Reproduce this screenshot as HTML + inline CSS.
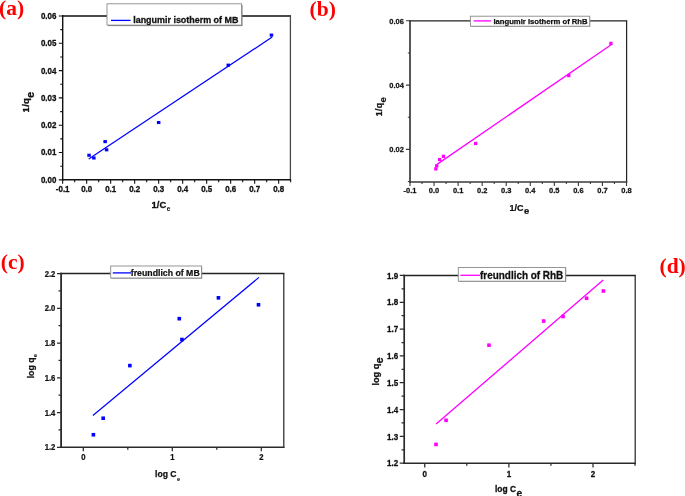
<!DOCTYPE html>
<html lang="en"><head><meta charset="utf-8"><title>Langmuir and Freundlich isotherms of MB and RhB</title>
<style>html,body{margin:0;padding:0;background:#fff;overflow:hidden}svg{display:block}text{white-space:pre}.s text{stroke:#111;stroke-linejoin:round}</style></head><body>
<svg width="685" height="496" viewBox="0 0 685 496">
<rect width="685" height="496" fill="#fff"/>
<g class="s" stroke-width="0.3">
<g class="frame">
<line x1="62" y1="16" x2="291.05" y2="16" stroke="#4a4a4a" stroke-width="1.8"/>
<line x1="290.4" y1="16" x2="290.4" y2="180.6" stroke="#4a4a4a" stroke-width="1.3"/>
<line x1="62.7" y1="15.1" x2="62.7" y2="180.6" stroke="#111" stroke-width="1.4"/>
<line x1="62" y1="179.85" x2="291.05" y2="179.85" stroke="#111" stroke-width="1.5"/>
</g>
<path d="M62.66 179.85v3.95M86.66 179.85v3.95M110.66 179.85v3.95M134.66 179.85v3.95M158.66 179.85v3.95M182.66 179.85v3.95M206.66 179.85v3.95M230.66 179.85v3.95M254.66 179.85v3.95M278.66 179.85v3.95M74.66 179.85v2.45M98.66 179.85v2.45M122.66 179.85v2.45M146.66 179.85v2.45M170.66 179.85v2.45M194.66 179.85v2.45M218.66 179.85v2.45M242.66 179.85v2.45M266.66 179.85v2.45M290.66 179.85v2.45M62.7 179.85h-3.9M62.7 152.54h-3.9M62.7 125.23h-3.9M62.7 97.92h-3.9M62.7 70.62h-3.9M62.7 43.31h-3.9M62.7 16h-3.9M62.7 166.2h-2.4M62.7 138.89h-2.4M62.7 111.58h-2.4M62.7 84.27h-2.4M62.7 56.96h-2.4M62.7 29.65h-2.4" stroke="#111" stroke-width="1.1" fill="none"/>
<g font-family='"Liberation Sans", Arial, Helvetica, sans-serif' font-weight="bold" font-size="8.3" fill="#111">
<text transform="translate(62.66 191.7) scale(0.96 1)" text-anchor="middle">-0.1</text>
<text transform="translate(86.66 191.7) scale(0.96 1)" text-anchor="middle">0.0</text>
<text transform="translate(110.66 191.7) scale(0.96 1)" text-anchor="middle">0.1</text>
<text transform="translate(134.66 191.7) scale(0.96 1)" text-anchor="middle">0.2</text>
<text transform="translate(158.66 191.7) scale(0.96 1)" text-anchor="middle">0.3</text>
<text transform="translate(182.66 191.7) scale(0.96 1)" text-anchor="middle">0.4</text>
<text transform="translate(206.66 191.7) scale(0.96 1)" text-anchor="middle">0.5</text>
<text transform="translate(230.66 191.7) scale(0.96 1)" text-anchor="middle">0.6</text>
<text transform="translate(254.66 191.7) scale(0.96 1)" text-anchor="middle">0.7</text>
<text transform="translate(278.66 191.7) scale(0.96 1)" text-anchor="middle">0.8</text>
<text transform="translate(56.4 182.8) scale(0.96 1)" text-anchor="end">0.00</text>
<text transform="translate(56.4 155.49) scale(0.96 1)" text-anchor="end">0.01</text>
<text transform="translate(56.4 128.18) scale(0.96 1)" text-anchor="end">0.02</text>
<text transform="translate(56.4 100.88) scale(0.96 1)" text-anchor="end">0.03</text>
<text transform="translate(56.4 73.57) scale(0.96 1)" text-anchor="end">0.04</text>
<text transform="translate(56.4 46.26) scale(0.96 1)" text-anchor="end">0.05</text>
<text transform="translate(56.4 18.95) scale(0.96 1)" text-anchor="end">0.06</text>
</g>
<text transform="translate(151.6 207.8) scale(0.985 1)" font-family='"Liberation Sans", Arial, Helvetica, sans-serif' font-weight="bold" font-size="9.6" fill="#111">1/C<tspan dx="0.4" dy="3.2" font-size="6.5" stroke-width="0.08">e</tspan></text>
<text transform="translate(29.2 112.5) rotate(-90) scale(1 1)" letter-spacing="0.3" font-family='"Liberation Sans", Arial, Helvetica, sans-serif' font-weight="bold" font-size="9.6" fill="#111">1/q<tspan dx="-0.3" dy="5.2" font-size="11">e</tspan></text>
<line x1="88.7" y1="159.1" x2="272.2" y2="37.1" stroke="#0000ff" stroke-width="1.25"/>
<rect x="87.31" y="153.72" width="3.5" height="3.1" fill="#0000ff"/>
<rect x="92.11" y="156.45" width="3.5" height="3.1" fill="#0000ff"/>
<rect x="103.39" y="140.07" width="3.5" height="3.1" fill="#0000ff"/>
<rect x="104.83" y="148.26" width="3.5" height="3.1" fill="#0000ff"/>
<rect x="156.91" y="120.95" width="3.5" height="3.1" fill="#0000ff"/>
<rect x="226.51" y="63.6" width="3.5" height="3.1" fill="#0000ff"/>
<rect x="269.71" y="33.57" width="3.5" height="3.1" fill="#0000ff"/>
<rect x="108" y="4.8" width="134.5" height="21.3" fill="#777"/>
<rect x="107" y="3.8" width="134.5" height="21.3" fill="#fff" stroke="#8a8a8a" stroke-width="0.9"/>
<line x1="111" y1="20.4" x2="130.6" y2="20.4" stroke="#0000ff" stroke-width="1.3"/>
<text transform="translate(133.2 23) scale(0.972 1)" font-family='"Liberation Sans", Arial, Helvetica, sans-serif' font-weight="bold" font-size="9.2" fill="#111">langumir isotherm of MB</text>
</g>
<g class="s" stroke-width="0.25">
<g class="frame">
<line x1="409.15" y1="20.8" x2="627.2" y2="20.8" stroke="#222" stroke-width="1.2"/>
<line x1="626.6" y1="20.8" x2="626.6" y2="182.8" stroke="#222" stroke-width="1.2"/>
<line x1="410" y1="20.2" x2="410" y2="182.8" stroke="#3a3a3a" stroke-width="1.7"/>
<line x1="409.15" y1="182" x2="627.2" y2="182" stroke="#3a3a3a" stroke-width="1.6"/>
</g>
<path d="M410 182v4M434.06 182v4M458.11 182v4M482.17 182v4M506.22 182v4M530.28 182v4M554.33 182v4M578.39 182v4M602.44 182v4M626.5 182v4M422.03 182v2.1M446.08 182v2.1M470.14 182v2.1M494.19 182v2.1M518.25 182v2.1M542.31 182v2.1M566.36 182v2.1M590.42 182v2.1M614.47 182v2.1M410 149.4h-4.05M410 85.1h-4.05M410 20.8h-4.05M410 181.55h-2.15M410 117.25h-2.15M410 52.95h-2.15" stroke="#3a3a3a" stroke-width="1.1" fill="none"/>
<g font-family='"Liberation Sans", Arial, Helvetica, sans-serif' font-weight="bold" font-size="7.7" fill="#111">
<text transform="translate(410 193.35) scale(0.975 1)" text-anchor="middle">-0.1</text>
<text transform="translate(434.06 193.35) scale(0.975 1)" text-anchor="middle">0.0</text>
<text transform="translate(458.11 193.35) scale(0.975 1)" text-anchor="middle">0.1</text>
<text transform="translate(482.17 193.35) scale(0.975 1)" text-anchor="middle">0.2</text>
<text transform="translate(506.22 193.35) scale(0.975 1)" text-anchor="middle">0.3</text>
<text transform="translate(530.28 193.35) scale(0.975 1)" text-anchor="middle">0.4</text>
<text transform="translate(554.33 193.35) scale(0.975 1)" text-anchor="middle">0.5</text>
<text transform="translate(578.39 193.35) scale(0.975 1)" text-anchor="middle">0.6</text>
<text transform="translate(602.44 193.35) scale(0.975 1)" text-anchor="middle">0.7</text>
<text transform="translate(626.5 193.35) scale(0.975 1)" text-anchor="middle">0.8</text>
<text transform="translate(403.9 152.15) scale(0.975 1)" text-anchor="end">0.02</text>
<text transform="translate(403.9 87.85) scale(0.975 1)" text-anchor="end">0.04</text>
<text transform="translate(403.9 23.55) scale(0.975 1)" text-anchor="end">0.06</text>
</g>
<text transform="translate(509.6 210.55) scale(0.97 1)" font-family='"Liberation Sans", Arial, Helvetica, sans-serif' font-weight="bold" font-size="9.3" fill="#111">1/C<tspan dx="0.4" dy="3.2" font-size="9.7">e</tspan></text>
<text transform="translate(382.4 116.2) rotate(-90) scale(1 1)" letter-spacing="0.25" font-family='"Liberation Sans", Arial, Helvetica, sans-serif' font-weight="bold" font-size="8.8" fill="#111">1/q<tspan dx="0.2" dy="3.4" font-size="9.5">e</tspan></text>
<line x1="437" y1="164.4" x2="610.8" y2="45" stroke="#ff00ff" stroke-width="1.3"/>
<rect x="434.21" y="167.22" width="3.3" height="3.3" fill="#ff00ff"/>
<rect x="435.05" y="164.16" width="3.3" height="3.3" fill="#ff00ff"/>
<rect x="437.94" y="157.9" width="3.3" height="3.3" fill="#ff00ff"/>
<rect x="441.79" y="154.68" width="3.3" height="3.3" fill="#ff00ff"/>
<rect x="474.02" y="141.82" width="3.3" height="3.3" fill="#ff00ff"/>
<rect x="567.12" y="73.91" width="3.3" height="3.3" fill="#ff00ff"/>
<rect x="609.33" y="41.75" width="3.3" height="3.3" fill="#ff00ff"/>
<rect x="470.9" y="16.7" width="119.3" height="10" fill="#999"/>
<rect x="470.4" y="16.2" width="119.3" height="10" fill="#fff" stroke="#8a8a8a" stroke-width="0.9"/>
<line x1="473.6" y1="20.9" x2="491.2" y2="20.9" stroke="#ff00ff" stroke-width="1.3"/>
<text transform="translate(493.4 23.8) scale(1 1)" font-family='"Liberation Sans", Arial, Helvetica, sans-serif' font-weight="bold" font-size="7.68" fill="#111">langumir isotherm of RhB</text>
</g>
<g class="s" stroke-width="0.25">
<g class="frame">
<line x1="60.2" y1="273.5" x2="284.4" y2="273.5" stroke="#222" stroke-width="1.3"/>
<line x1="283.8" y1="273.5" x2="283.8" y2="447.95" stroke="#222" stroke-width="1.2"/>
<line x1="61.1" y1="272.85" x2="61.1" y2="447.95" stroke="#2a2a2a" stroke-width="1.8"/>
<line x1="60.2" y1="447.25" x2="284.4" y2="447.25" stroke="#2a2a2a" stroke-width="1.4"/>
</g>
<path d="M83.3 447.25v3.9M172.3 447.25v3.9M261.3 447.25v3.9M127.8 447.25v2.4M216.8 447.25v2.4M61.1 447.25h-4.1M61.1 412.5h-4.1M61.1 377.75h-4.1M61.1 343h-4.1M61.1 308.25h-4.1M61.1 273.5h-4.1M61.1 429.88h-2.6M61.1 395.12h-2.6M61.1 360.38h-2.6M61.1 325.63h-2.6M61.1 290.88h-2.6" stroke="#2a2a2a" stroke-width="1.25" fill="none"/>
<g font-family='"Liberation Sans", Arial, Helvetica, sans-serif' font-weight="bold" font-size="8.5" fill="#111">
<text transform="translate(83.3 460.2) scale(0.9 1)" text-anchor="middle">0</text>
<text transform="translate(172.3 460.2) scale(0.9 1)" text-anchor="middle">1</text>
<text transform="translate(261.3 460.2) scale(0.9 1)" text-anchor="middle">2</text>
<text transform="translate(55.3 450.25) scale(0.9 1)" text-anchor="end">1.2</text>
<text transform="translate(55.3 415.5) scale(0.9 1)" text-anchor="end">1.4</text>
<text transform="translate(55.3 380.75) scale(0.9 1)" text-anchor="end">1.6</text>
<text transform="translate(55.3 346) scale(0.9 1)" text-anchor="end">1.8</text>
<text transform="translate(55.3 311.25) scale(0.9 1)" text-anchor="end">2.0</text>
<text transform="translate(55.3 276.5) scale(0.9 1)" text-anchor="end">2.2</text>
</g>
<text transform="translate(155 476.8) scale(1 1)" font-family='"Liberation Sans", Arial, Helvetica, sans-serif' font-weight="bold" font-size="8.6" fill="#111">log C<tspan dx="0.4" dy="3.7" font-size="5.8" stroke-width="0.08">e</tspan></text>
<text transform="translate(33.9 378.3) rotate(-90) scale(1 1)" letter-spacing="0" font-family='"Liberation Sans", Arial, Helvetica, sans-serif' font-weight="bold" font-size="8.7" fill="#111">log q<tspan dx="0.4" dy="3.5" font-size="5.8" stroke-width="0.08">e</tspan></text>
<line x1="92.9" y1="415.5" x2="259" y2="277.4" stroke="#0000ff" stroke-width="1.2"/>
<rect x="91.59" y="432.94" width="3.6" height="3.6" fill="#0000ff"/>
<rect x="101.38" y="416.43" width="3.6" height="3.6" fill="#0000ff"/>
<rect x="128.08" y="363.79" width="3.6" height="3.6" fill="#0000ff"/>
<rect x="177.47" y="316.88" width="3.6" height="3.6" fill="#0000ff"/>
<rect x="180.14" y="337.72" width="3.6" height="3.6" fill="#0000ff"/>
<rect x="216.63" y="296.03" width="3.6" height="3.6" fill="#0000ff"/>
<rect x="256.69" y="302.97" width="3.6" height="3.6" fill="#0000ff"/>
<rect x="111.3" y="266.6" width="90.9" height="12" fill="#888"/>
<rect x="110.7" y="266" width="90.9" height="12" fill="#fff" stroke="#8a8a8a" stroke-width="0.9"/>
<line x1="112.8" y1="272.9" x2="131" y2="272.9" stroke="#0000ff" stroke-width="1.3"/>
<text transform="translate(130.8 275.6) scale(0.94 1)" font-family='"Liberation Sans", Arial, Helvetica, sans-serif' font-weight="bold" font-size="9.3" fill="#111">freundlich of MB</text>
</g>
<g class="s" stroke-width="0.3">
<g class="frame">
<line x1="403.35" y1="275.45" x2="635.8" y2="275.45" stroke="#222" stroke-width="1.4"/>
<line x1="635.2" y1="275.45" x2="635.2" y2="463.95" stroke="#222" stroke-width="1.2"/>
<line x1="404.2" y1="274.75" x2="404.2" y2="463.95" stroke="#2a2a2a" stroke-width="1.7"/>
<line x1="403.35" y1="463.2" x2="635.8" y2="463.2" stroke="#2a2a2a" stroke-width="1.5"/>
</g>
<path d="M424.75 463.2v4.35M508.88 463.2v4.35M593 463.2v4.35M466.81 463.2v2.55M550.94 463.2v2.55M635.06 463.2v2.55M404.2 463.2h-4.45M404.2 436.38h-4.45M404.2 409.56h-4.45M404.2 382.74h-4.45M404.2 355.91h-4.45M404.2 329.09h-4.45M404.2 302.27h-4.45M404.2 275.45h-4.45M404.2 449.79h-2.65M404.2 422.97h-2.65M404.2 396.15h-2.65M404.2 369.32h-2.65M404.2 342.5h-2.65M404.2 315.68h-2.65M404.2 288.86h-2.65" stroke="#2a2a2a" stroke-width="1.25" fill="none"/>
<g font-family='"Liberation Sans", Arial, Helvetica, sans-serif' font-weight="bold" font-size="9.6" fill="#111">
<text transform="translate(424.75 476.9) scale(0.84 1)" text-anchor="middle">0</text>
<text transform="translate(508.88 476.9) scale(0.84 1)" text-anchor="middle">1</text>
<text transform="translate(593 476.9) scale(0.84 1)" text-anchor="middle">2</text>
<text transform="translate(398.3 466.35) scale(0.84 1)" text-anchor="end">1.2</text>
<text transform="translate(398.3 439.53) scale(0.84 1)" text-anchor="end">1.3</text>
<text transform="translate(398.3 412.71) scale(0.84 1)" text-anchor="end">1.4</text>
<text transform="translate(398.3 385.89) scale(0.84 1)" text-anchor="end">1.5</text>
<text transform="translate(398.3 359.06) scale(0.84 1)" text-anchor="end">1.6</text>
<text transform="translate(398.3 332.24) scale(0.84 1)" text-anchor="end">1.7</text>
<text transform="translate(398.3 305.42) scale(0.84 1)" text-anchor="end">1.8</text>
<text transform="translate(398.3 278.6) scale(0.84 1)" text-anchor="end">1.9</text>
</g>
<text transform="translate(495 492.2) scale(0.93 1)" font-family='"Liberation Sans", Arial, Helvetica, sans-serif' font-weight="bold" font-size="9.1" fill="#111">log C<tspan dx="0.4" dy="4.8" font-size="11">e</tspan></text>
<text transform="translate(378.8 385.5) rotate(-90) scale(1 1)" letter-spacing="0" font-family='"Liberation Sans", Arial, Helvetica, sans-serif' font-weight="bold" font-size="9.1" fill="#111">log q<tspan dx="0.4" dy="3.9" font-size="11">e</tspan></text>
<line x1="436.1" y1="424" x2="603.2" y2="280.1" stroke="#ff00ff" stroke-width="1.3"/>
<rect x="434.19" y="442.62" width="3.6" height="3.6" fill="#ff00ff"/>
<rect x="444.28" y="418.49" width="3.6" height="3.6" fill="#ff00ff"/>
<rect x="487.19" y="343.39" width="3.6" height="3.6" fill="#ff00ff"/>
<rect x="541.87" y="319.25" width="3.6" height="3.6" fill="#ff00ff"/>
<rect x="561.22" y="314.69" width="3.6" height="3.6" fill="#ff00ff"/>
<rect x="584.77" y="296.45" width="3.6" height="3.6" fill="#ff00ff"/>
<rect x="601.6" y="289.21" width="3.6" height="3.6" fill="#ff00ff"/>
<rect x="458.9" y="268.1" width="107.3" height="13.7" fill="#888"/>
<rect x="458.3" y="267.5" width="107.3" height="13.7" fill="#fff" stroke="#8a8a8a" stroke-width="0.9"/>
<line x1="460.4" y1="275.3" x2="480.2" y2="275.3" stroke="#ff00ff" stroke-width="1.3"/>
<text transform="translate(480 278.8) scale(0.887 1)" font-family='"Liberation Sans", Arial, Helvetica, sans-serif' font-weight="bold" font-size="11.2" fill="#111">freundlich of RhB</text>
</g>
<g font-family='"Liberation Serif", "Times New Roman", serif' font-weight="bold" font-size="21.5" fill="#ff0000">
<text x="-0.9" y="15.2">(a)</text>
<text x="309.6" y="15.7">(b)</text>
<text x="0.8" y="268.8">(c)</text>
<text x="659.5" y="273.1">(d)</text>
</g>
</svg></body></html>
